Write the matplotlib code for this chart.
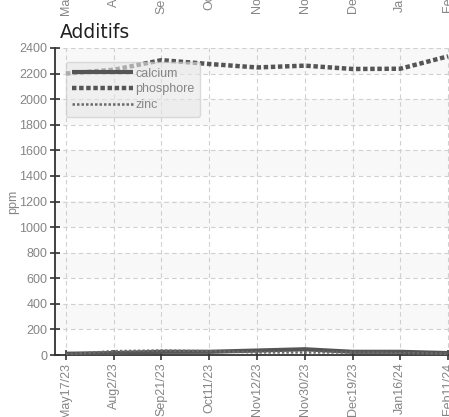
import numpy as np
import matplotlib
matplotlib.use("Agg")
from matplotlib import pyplot as plt
from matplotlib import transforms

# Datos
fechas = ["May17/23", "Aug2/23", "Sep21/23", "Oct11/23", "Nov12/23",
          "Nov30/23", "Dec19/23", "Jan16/24", "Feb11/24"]
calcium = [10, 15, 25, 25, 35, 45, 25, 25, 15]
phosphore = [2200, 2230, 2305, 2275, 2248, 2262, 2236, 2238, 2335]
zinc = [5, 30, 35, 30, 20, 20, 20, 15, 10]

police = ["Liberation Sans", "DejaVu Sans"]
gris = "#858585"
taille = 9

fig = plt.figure(figsize=(4.49, 4.17), dpi=100)
ax = fig.add_axes([55 / 449, 1 - 355 / 417, 394 / 449, 307 / 417])

x = np.arange(len(fechas))

# bandes grises
for b in range(200, 2400, 400):
    ax.axhspan(b, b + 200, color="#f8f8f8", zorder=0, lw=0)

ax.plot(x, calcium, color="#555555", lw=3, solid_capstyle="butt", label="calcium", zorder=3)
ax.plot(x, phosphore, color="#555555", lw=3.2, ls=(0, (1, 0.6)), label="phosphore", zorder=3)
ax.plot(x, zinc, color="#6a6a6a", lw=1.8, ls=(0, (1, 0.8)), label="zinc", zorder=3)

ax.set_xlim(-0.23, 8.02)
ax.set_ylim(0, 2400)
ax.set_yticks(range(0, 2401, 200))
ax.set_xticks(x)
ax.set_xticklabels(fechas, rotation=90, family=police, fontsize=taille, color=gris)
for t in ax.get_yticklabels():
    t.set_family(police)
    t.set_fontsize(taille)
    t.set_color(gris)

ax.grid(True, ls=(0, (4, 3)), color="#d0d0d0", lw=0.8)
ax.set_axisbelow(True)
for s in ["top", "right"]:
    ax.spines[s].set_visible(False)
for s in ["left", "bottom"]:
    ax.spines[s].set_color("#333333")
    ax.spines[s].set_linewidth(1.3)
ax.tick_params(direction="inout", length=7, width=1.2, color="#333333", pad=2)

ax.set_ylabel("ppm", family=police, fontsize=taille, color=gris, labelpad=2)
ax.yaxis.set_label_coords(-0.09, 0.5)

fig.text(60 / 449, 1 - 32 / 417, "Additifs", fontsize=13.5, color="#222222",
         ha="left", va="center")

# etiquettes du graphique precedent (coupees en haut)
trans = transforms.blended_transform_factory(ax.transData, fig.transFigure)
for i, f in enumerate(fechas):
    fig.text(i, 1 + 40 / 417, f, transform=trans, rotation=90, ha="center", va="top",
             family=police, fontsize=taille, color=gris)

leg = ax.legend(loc="upper left", bbox_to_anchor=(0.012, 0.975), handlelength=4.9,
                handletextpad=0.2, labelspacing=0.3, borderpad=0.45, fancybox=True,
                framealpha=0.6, facecolor="#e6e6e6", edgecolor="#c8c8c8",
                prop={"family": police, "size": taille})
for t in leg.get_texts():
    t.set_color(gris)

fig.savefig("out.png", dpi=100)
